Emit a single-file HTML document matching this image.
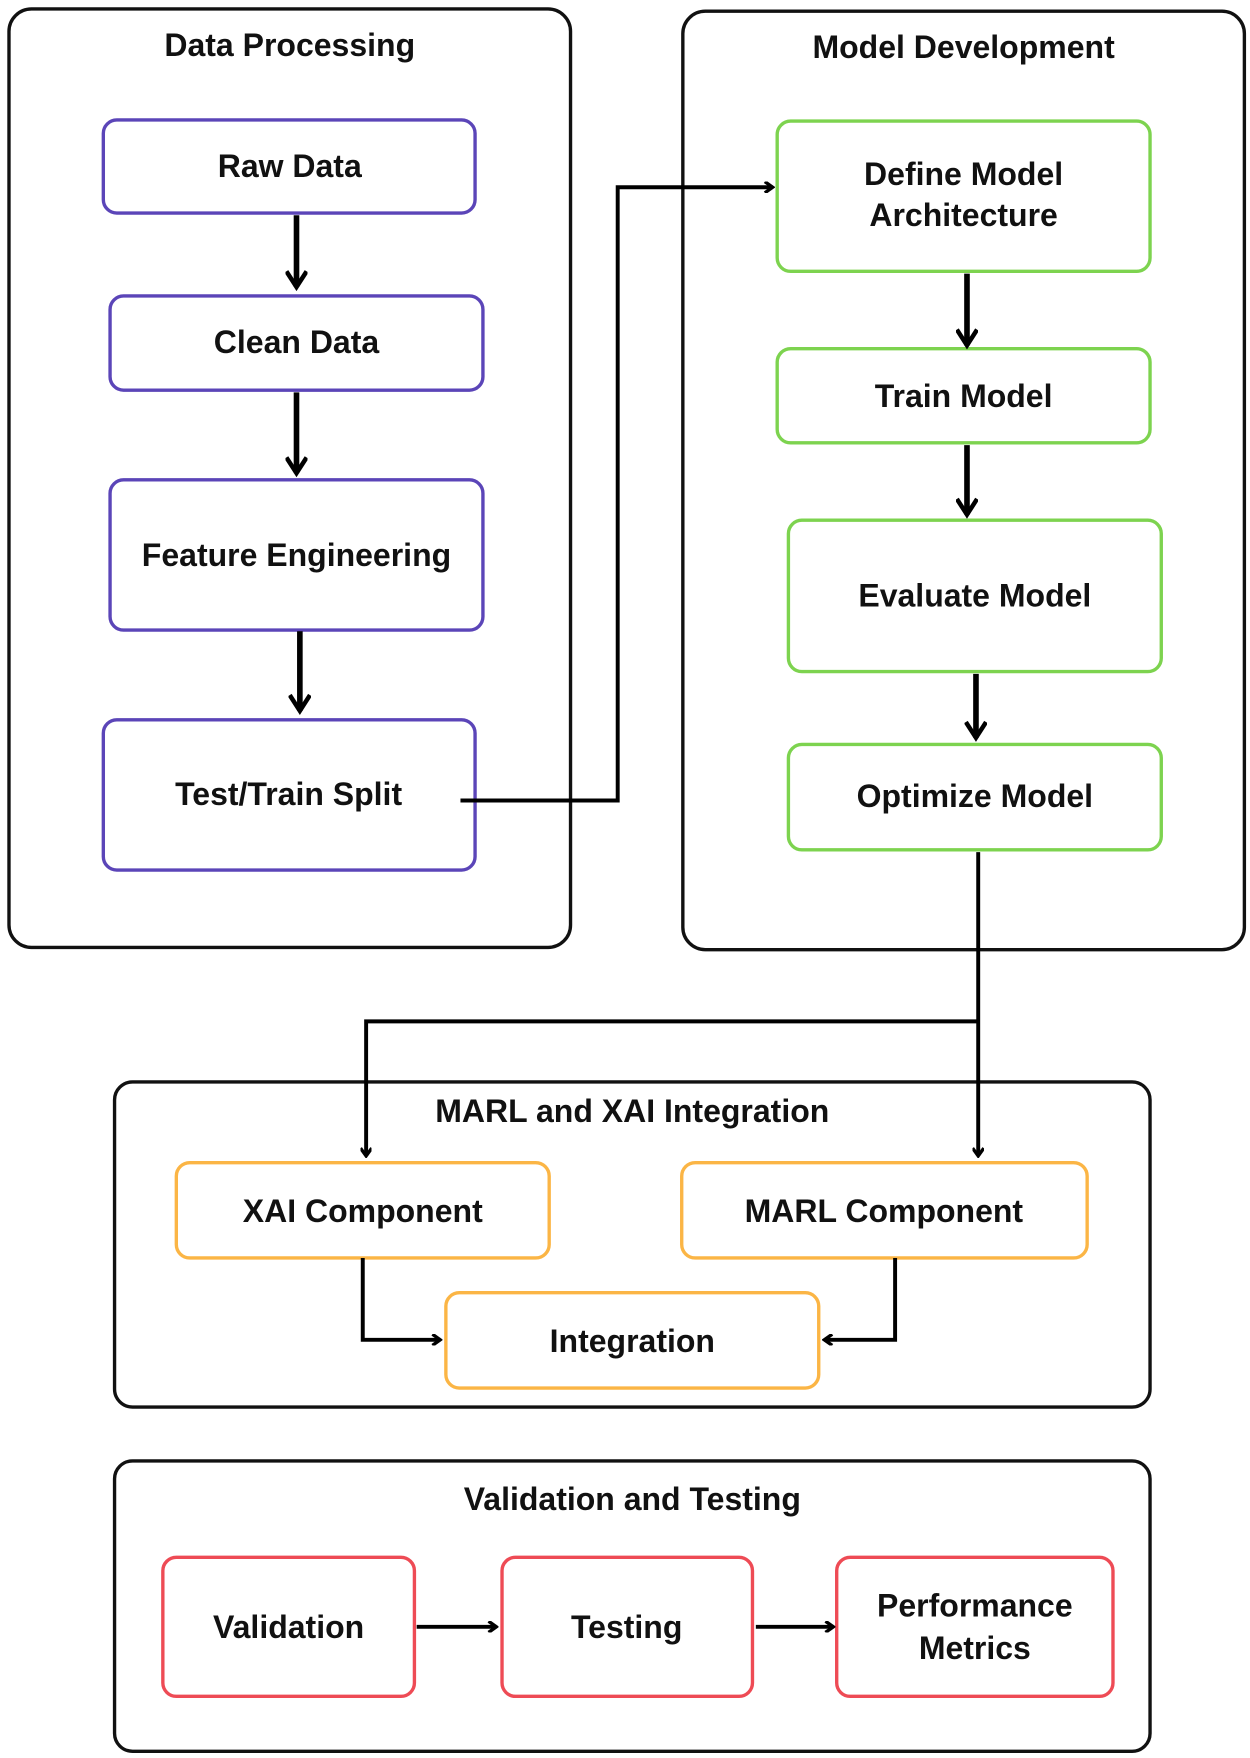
<!DOCTYPE html>
<html><head><style>
html,body{margin:0;padding:0;background:#fff;}
svg{display:block;}
text{font-family:"Liberation Sans",sans-serif;font-weight:bold;font-size:28.5px;fill:#111;text-anchor:middle;dominant-baseline:central;}
</style></head><body>
<svg width="1250" height="1758" viewBox="0 0 1113 1568" preserveAspectRatio="none">
<defs>
<marker id="a" markerWidth="10" markerHeight="10" refX="8" refY="5" orient="auto" markerUnits="userSpaceOnUse"><path d="M1,0 L8,5 L1,10" fill="none" stroke="#000" stroke-width="3"/></marker>
<marker id="b" markerWidth="20" markerHeight="20" refX="16" refY="10" orient="auto" markerUnits="userSpaceOnUse"><path d="M2,1 L16,10 L2,19" fill="none" stroke="#000" stroke-width="4"/></marker>
</defs>
<g fill="none" stroke="#111" stroke-width="3">
<rect x="8" y="8" width="500" height="837" rx="20"/>
<rect x="608" y="10" width="500" height="837" rx="20"/>
<rect x="102" y="965" width="922" height="290" rx="16"/>
<rect x="102" y="1303" width="922" height="259" rx="16"/>
</g>
<text x="258" y="40">Data Processing</text>
<text x="858" y="42">Model Development</text>
<text x="563" y="991">MARL and XAI Integration</text>
<text x="563" y="1337">Validation and Testing</text>
<g fill="#fff" stroke="#5b45b8" stroke-width="3">
<rect x="92" y="107" width="331" height="83" rx="12"/>
<rect x="98" y="264" width="332" height="84" rx="12"/>
<rect x="98" y="428" width="332" height="134" rx="12"/>
<rect x="92" y="642" width="331" height="134" rx="12"/>
</g>
<g fill="#fff" stroke="#7dd34f" stroke-width="3">
<rect x="692" y="108" width="332" height="134" rx="12"/>
<rect x="692" y="311" width="332" height="84" rx="12"/>
<rect x="702" y="464" width="332" height="135" rx="12"/>
<rect x="702" y="664" width="332" height="94" rx="12"/>
</g>
<g fill="#fff" stroke="#fbb545" stroke-width="3">
<rect x="157" y="1037" width="332" height="85" rx="12"/>
<rect x="607" y="1037" width="361" height="85" rx="12"/>
<rect x="397" y="1153" width="332" height="85" rx="12"/>
</g>
<g fill="#fff" stroke="#ee4b55" stroke-width="3">
<rect x="145" y="1389" width="224" height="124" rx="12"/>
<rect x="447" y="1389" width="223" height="124" rx="12"/>
<rect x="745" y="1389" width="246" height="124" rx="12"/>
</g>
<g fill="none" stroke="#000">
<path d="M264,192 V256" stroke-width="5" marker-end="url(#b)"/>
<path d="M264,350 V422" stroke-width="5" marker-end="url(#b)"/>
<path d="M267,563 V634" stroke-width="5" marker-end="url(#b)"/>
<path d="M861,244 V308" stroke-width="5" marker-end="url(#b)"/>
<path d="M861,397 V459" stroke-width="5" marker-end="url(#b)"/>
<path d="M869,601 V658" stroke-width="5" marker-end="url(#b)"/>
<path d="M410,714 H550 V167 H688" stroke-width="3.5" marker-end="url(#a)"/>
<path d="M871,760 V1031" stroke-width="3.5" marker-end="url(#a)"/>
<path d="M871,911 H326 V1031" stroke-width="3.5" marker-end="url(#a)"/>
<path d="M323,1122 V1195 H392" stroke-width="3.5" marker-end="url(#a)"/>
<path d="M797,1122 V1195 H734" stroke-width="3.5" marker-end="url(#a)"/>
<path d="M371,1451 H442" stroke-width="3.5" marker-end="url(#a)"/>
<path d="M673,1451 H742" stroke-width="3.5" marker-end="url(#a)"/>
</g>
<text x="258" y="148">Raw Data</text>
<text x="264" y="305">Clean Data</text>
<text x="264" y="495">Feature Engineering</text>
<text x="257" y="708">Test/Train Split</text>
<text x="858" y="155">Define Model</text>
<text x="858" y="192">Architecture</text>
<text x="858" y="353">Train Model</text>
<text x="868" y="531">Evaluate Model</text>
<text x="868" y="710">Optimize Model</text>
<text x="323" y="1080">XAI Component</text>
<text x="787" y="1080">MARL Component</text>
<text x="563" y="1196">Integration</text>
<text x="257" y="1451">Validation</text>
<text x="558" y="1451">Testing</text>
<text x="868" y="1432">Performance</text>
<text x="868" y="1470">Metrics</text>
</svg>
</body></html>
